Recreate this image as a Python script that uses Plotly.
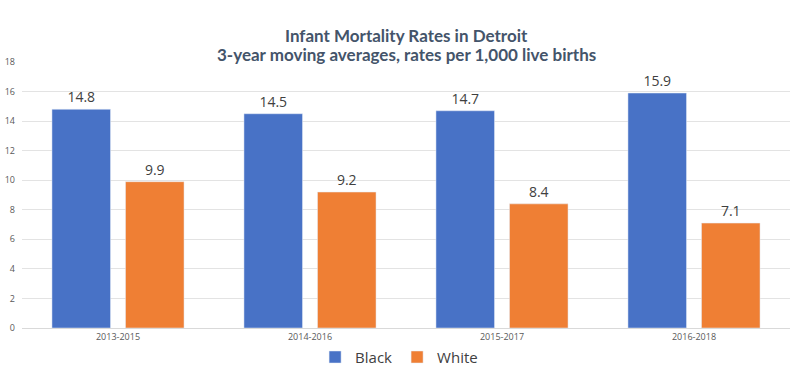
import plotly.graph_objects as go

periods = ["2013-2015", "2014-2016", "2015-2017", "2016-2018"]
black = [14.8, 14.5, 14.7, 15.9]
white = [9.9, 9.2, 8.4, 7.1]
y_ticks = [0, 2, 4, 6, 8, 10, 12, 14, 16, 18]
title_lines = ["Infant Mortality Rates in Detroit",
               "3-year moving averages, rates per 1,000 live births"]

label_font = dict(size=14, color="#404040", family="Open Sans")

fig = go.Figure()
fig.add_trace(go.Bar(
    name="Black", x=periods, y=black,
    marker=dict(color="#4872C6"),
    text=[f"{v:.1f}" for v in black], textposition="outside",
    textfont=label_font, cliponaxis=False,
))
fig.add_trace(go.Bar(
    name="White", x=periods, y=white,
    marker=dict(color="#EF7F34"),
    text=[f"{v:.1f}" for v in white], textposition="outside",
    textfont=label_font, cliponaxis=False,
))

plot_h = 380 - 62 - 52
for i, line in enumerate(title_lines):
    y_px = 35 + 19.5 * i
    fig.add_annotation(
        text=f"<b>{line}</b>", x=0.5, xref="paper", xanchor="center",
        y=(328 - y_px) / plot_h, yref="paper", yanchor="middle",
        showarrow=False,
        font=dict(size=17, color="#44546A", family="Lato"),
    )

fig.update_layout(
    width=800, height=380,
    margin=dict(l=22, r=10, t=62, b=52, autoexpand=False),
    paper_bgcolor="white", plot_bgcolor="white",
    barmode="group", bargap=0.234, bargroupgap=0.204,
    legend=dict(
        orientation="h", x=0.491, xanchor="center", y=-0.11, yanchor="middle",
        font=dict(size=15, color="#404040", family="Open Sans"),
        itemwidth=30, traceorder="normal",
    ),
    xaxis=dict(
        automargin=False,
        tickfont=dict(size=9, color="#595959", family="Open Sans"),
        showline=True, linecolor="#D9D9D9", linewidth=1, ticks="",
    ),
    yaxis=dict(
        automargin=False,
        range=[0, 18], tickvals=y_ticks,
        tickfont=dict(size=9, color="#595959", family="Open Sans"),
        gridcolor="#E3E3E3", gridwidth=1, zeroline=False,
        ticks="", ticklabelstandoff=6,
    ),
    showlegend=True,
)
fig.write_html("out.html", config={"displayModeBar": False},
               post_script="document.body.style.margin='0';")
